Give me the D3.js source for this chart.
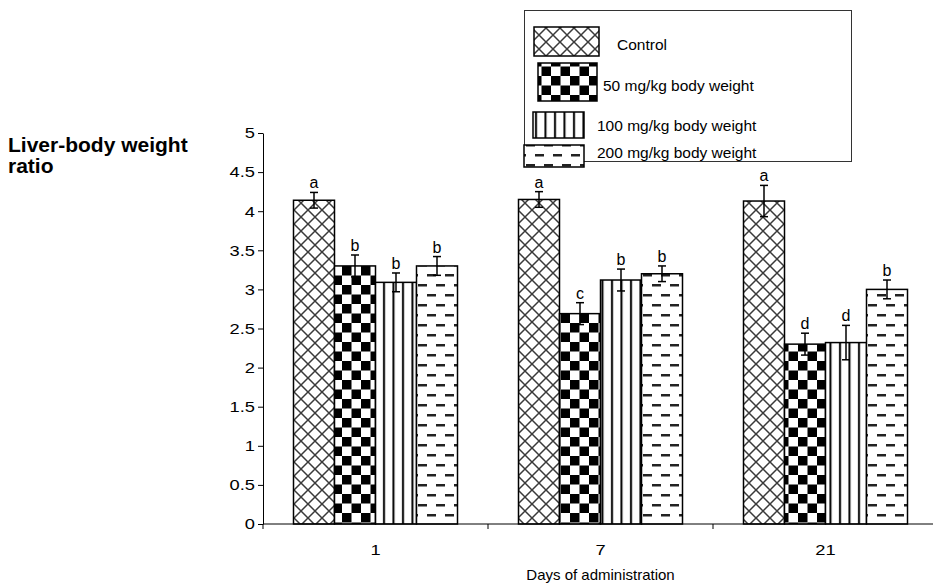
<!DOCTYPE html>
<html>
<head>
<meta charset="utf-8">
<script src="https://cdn.jsdelivr.net/npm/d3@7"></script>
<style>
  html, body { margin: 0; padding: 0; background: #fff; }
  svg { display: block; font-family: Arial, "Liberation Sans", sans-serif; }
</style>
</head>
<body>
<svg id="chart" width="933" height="584"></svg>
<script>
// ---- data ----
const days = ["1", "7", "21"];
const groups = ["Control", "50 mg/kg body weight", "100 mg/kg body weight", "200 mg/kg body weight"];
const control   = [4.14, 4.15, 4.13];
const dose50    = [3.30, 2.69, 2.30];
const dose100   = [3.09, 3.12, 2.32];
const dose200   = [3.30, 3.20, 3.00];
const errControl = [0.10, 0.10, 0.20];
const err50      = [0.14, 0.14, 0.14];
const err100     = [0.12, 0.14, 0.22];
const err200     = [0.12, 0.10, 0.12];
const lettersControl = ["a", "a", "a"];
const letters50      = ["b", "c", "d"];
const letters100     = ["b", "b", "d"];
const letters200     = ["b", "b", "b"];
const yTicks = [0, 0.5, 1, 1.5, 2, 2.5, 3, 3.5, 4, 4.5, 5];
const yTickLabels = ["0", "0.5", "1", "1.5", "2", "2.5", "3", "3.5", "4", "4.5", "5"];

const seriesValues = [control, dose50, dose100, dose200];
const seriesErr = [errControl, err50, err100, err200];
const seriesLetters = [lettersControl, letters50, letters100, letters200];
const patternIds = ["pCross", "pCheck", "pVert", "pDash"];

const rows = [];
days.forEach((d, i) => groups.forEach((g, j) => rows.push({
  day: d, group: g, gi: j, value: seriesValues[j][i], err: seriesErr[j][i], letter: seriesLetters[j][i]
})));

const svg = d3.select("#chart");

// ---- patterns ----
const defs = svg.append("defs");
{
  const p = defs.append("pattern").attr("id", "pCross").attr("patternUnits", "userSpaceOnUse")
    .attr("width", 14).attr("height", 14);
  p.append("rect").attr("width", 14).attr("height", 14).attr("fill", "#fff");
  p.append("path").attr("d", "M0,0L14,14M14,0L0,14M-1,13L1,15M13,-1L15,1")
    .attr("stroke", "#3a3a3a").attr("stroke-width", 1.5).attr("fill", "none");
}
{
  const s = 9.5;
  const p = defs.append("pattern").attr("id", "pCheck").attr("patternUnits", "userSpaceOnUse")
    .attr("width", 2 * s).attr("height", 2 * s);
  p.append("rect").attr("width", 2 * s).attr("height", 2 * s).attr("fill", "#fff");
  p.append("rect").attr("x", 0).attr("y", 0).attr("width", s).attr("height", s).attr("fill", "#000");
  p.append("rect").attr("x", s).attr("y", s).attr("width", s).attr("height", s).attr("fill", "#000");
}
{
  const p = defs.append("pattern").attr("id", "pVert").attr("patternUnits", "userSpaceOnUse")
    .attr("width", 9.5).attr("height", 9);
  p.append("rect").attr("width", 9.5).attr("height", 9).attr("fill", "#fff");
  p.append("rect").attr("x", 3).attr("y", 0).attr("width", 2).attr("height", 9).attr("fill", "#000");
}
{
  const p = defs.append("pattern").attr("id", "pDash").attr("patternUnits", "userSpaceOnUse")
    .attr("width", 18).attr("height", 20);
  p.append("rect").attr("width", 18).attr("height", 20).attr("fill", "#fff");
  p.append("rect").attr("x", 4).attr("y", 4).attr("width", 9).attr("height", 2.5).attr("fill", "#222");
  p.append("rect").attr("x", 13).attr("y", 14).attr("width", 5).attr("height", 2.5).attr("fill", "#222");
  p.append("rect").attr("x", 0).attr("y", 14).attr("width", 4).attr("height", 2.5).attr("fill", "#222");
}

// ---- scales ----
const plotLeft = 263, plotRight = 938, plotTop = 133, plotBottom = 524;
const x0 = d3.scaleBand().domain(days).range([plotLeft, plotRight]).paddingInner(0).paddingOuter(0);
const x1 = d3.scaleBand().domain(groups).range([0, 164]);
const groupOffset = (x0.bandwidth() - 164) / 2;
const y = d3.scaleLinear().domain([0, 5]).range([plotBottom, plotTop]);

// ---- bars ----
svg.append("g").selectAll("rect").data(rows).join("rect")
  .attr("x", d => x0(d.day) + groupOffset + x1(d.group))
  .attr("y", d => y(d.value))
  .attr("width", x1.bandwidth())
  .attr("height", d => y(0) - y(d.value))
  .attr("fill", d => `url(#${patternIds[d.gi]})`)
  .attr("stroke", "#000").attr("stroke-width", 1.5);

// ---- error bars ----
const eb = svg.append("g").attr("stroke", "#000").attr("stroke-width", 1.5);
rows.forEach(d => {
  const cx = x0(d.day) + groupOffset + x1(d.group) + x1.bandwidth() / 2;
  eb.append("line").attr("x1", cx).attr("x2", cx).attr("y1", y(d.value + d.err)).attr("y2", y(d.value - d.err));
  eb.append("line").attr("x1", cx - 4).attr("x2", cx + 4).attr("y1", y(d.value + d.err)).attr("y2", y(d.value + d.err));
  eb.append("line").attr("x1", cx - 4).attr("x2", cx + 4).attr("y1", y(d.value - d.err)).attr("y2", y(d.value - d.err));
});

// ---- significance letters ----
svg.append("g").selectAll("text").data(rows).join("text")
  .attr("x", d => x0(d.day) + groupOffset + x1(d.group) + x1.bandwidth() / 2)
  .attr("y", d => y(d.value + d.err) - 4)
  .attr("text-anchor", "middle")
  .attr("font-size", 16)
  .text(d => d.letter);

// ---- axes ----
const yAxis = d3.axisLeft(y).tickValues(yTicks).tickFormat((d, i) => yTickLabels[i]).tickSizeInner(5).tickSizeOuter(0).tickPadding(3);
const gy = svg.append("g").attr("transform", `translate(${plotLeft},0)`).call(yAxis);
gy.select(".domain").attr("stroke", "#000");
gy.selectAll(".tick line").attr("stroke", "#000");
gy.selectAll(".tick text").attr("font-size", 15).attr("fill", "#000")
  .attr("font-family", "Arial, 'Liberation Sans', sans-serif")
  .attr("transform", "scale(1.22,1)").attr("x", -8 / 1.22);

const xAxis = d3.axisBottom(x0).tickSize(0).tickPadding(20);
const gx = svg.append("g").attr("transform", `translate(0,${plotBottom})`).call(xAxis);
gx.select(".domain").attr("stroke", "#000").attr("d", `M${plotLeft},0H${plotRight}`);
gx.selectAll(".tick text").attr("font-size", 15).attr("fill", "#000")
  .attr("font-family", "Arial, 'Liberation Sans', sans-serif")
  .each(function(d) {
    const cx = x0(d) + x0.bandwidth() / 2;
    d3.select(this.parentNode).attr("transform", `translate(${cx},0)`);
    d3.select(this).attr("transform", "scale(1.22,1)");
  });
// category boundary ticks
svg.append("g").selectAll("line").data(days.map(d => x0(d)).concat([plotRight])).join("line")
  .attr("x1", d => d).attr("x2", d => d).attr("y1", plotBottom).attr("y2", plotBottom + 5)
  .attr("stroke", "#000");

// ---- axis titles ----
const yTitle = svg.append("text").attr("font-weight", "bold").attr("font-size", 21).attr("fill", "#000");
yTitle.append("tspan").attr("x", 8).attr("y", 152).text("Liver-body weight");
yTitle.append("tspan").attr("x", 8).attr("y", 173).text("ratio");

svg.append("text").attr("x", (plotLeft + plotRight) / 2).attr("y", 580)
  .attr("text-anchor", "middle").attr("font-size", 15)
  .text("Days of administration");

// ---- legend ----
const lg = svg.append("g");
lg.append("rect").attr("x", 524.5).attr("y", 10.5).attr("width", 327).attr("height", 151)
  .attr("fill", "#fff").attr("stroke", "#333").attr("stroke-width", 1);
const swatchX = [534, 538, 533, 524];
const swatchY = [27, 63, 112, 145];
const swatchW = [65, 59, 51, 60];
const swatchH = [29, 38, 26, 22];
const textX = [617, 603, 597, 597];
const textY = [50, 91, 131, 158];
groups.forEach((g, j) => {
  lg.append("rect").attr("x", swatchX[j]).attr("y", swatchY[j]).attr("width", swatchW[j]).attr("height", swatchH[j])
    .attr("fill", `url(#${patternIds[j]})`).attr("stroke", "#000").attr("stroke-width", 1.5);
  lg.append("text").attr("x", textX[j]).attr("y", textY[j]).attr("font-size", 15.5).attr("fill", "#000").text(g);
});
</script>
</body>
</html>
